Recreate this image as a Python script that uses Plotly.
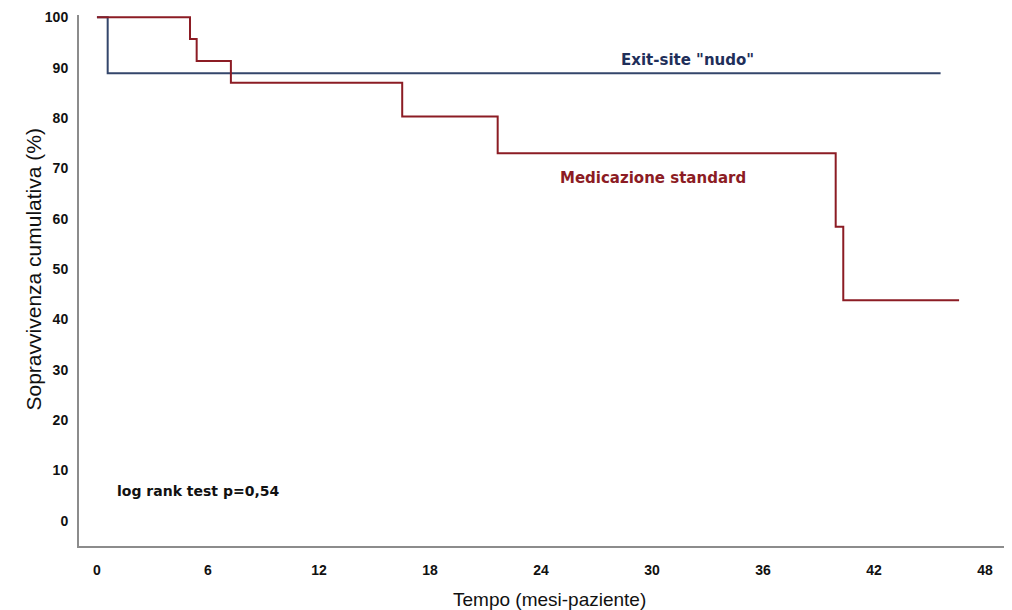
import plotly.graph_objects as go

# Kaplan-Meier data
nudo_time = [0, 0.58, 45.6]
nudo_surv = [100, 88.9, 88.9]

std_time = [0, 5.03, 5.39, 7.24, 16.5, 21.66, 39.93, 40.34, 46.6]
std_surv = [100, 95.7, 91.3, 87.0, 80.3, 73.0, 58.4, 43.8, 43.8]

x_ticks = [0, 6, 12, 18, 24, 30, 36, 42, 48]
y_ticks = [0, 10, 20, 30, 40, 50, 60, 70, 80, 90, 100]

BLUE = "#34466b"
RED = "#8c1c24"

# The page body adds an 8px offset, so the figure is sized/positioned to compensate
W, H = 1004, 602
ML, MR, MT, MB = 71, 0, 7, 64
PW, PH = W - ML - MR, H - MT - MB

fig = go.Figure()
fig.add_trace(go.Scatter(x=nudo_time, y=nudo_surv, mode="lines", line=dict(color=BLUE, width=2, shape="hv"),
                         name='Exit-site "nudo"', hoverinfo="x+y"))
fig.add_trace(go.Scatter(x=std_time, y=std_surv, mode="lines", line=dict(color=RED, width=2, shape="hv"),
                         name="Medicazione standard", hoverinfo="x+y"))

tickfont = dict(family="Liberation Sans Narrow, Arial Narrow, Liberation Sans, Arial", size=14, color="#111111", weight="bold")
annfont = "DejaVu Sans, Verdana, sans-serif"

fig.update_layout(
    width=W, height=H,
    margin=dict(l=ML, r=MR, t=MT, b=MB, autoexpand=False),
    paper_bgcolor="white", plot_bgcolor="white",
    showlegend=False,
    xaxis=dict(range=[-0.97, 49.46], tickvals=x_ticks, ticktext=[str(v) for v in x_ticks],
               showgrid=False, zeroline=False, showline=True, linecolor="#8c8c8c", linewidth=2,
               ticks="", ticklabelstandoff=10, tickfont=tickfont, automargin=False),
    yaxis=dict(range=[-5, 100.45], tickvals=y_ticks, ticktext=[str(v) for v in y_ticks],
               showgrid=False, zeroline=False, showline=True, linecolor="#8c8c8c", linewidth=2,
               ticks="", ticklabelstandoff=6, tickfont=tickfont, automargin=False),
    annotations=[
        dict(x=(541 - ML) / PW, y=(MT + PH - 591) / PH, xref="paper", yref="paper",
             text="Tempo (mesi-paziente)", showarrow=False, yanchor="middle",
             font=dict(family="Liberation Sans, Arial", size=19, color="#111111")),
        dict(x=(11 - ML) / PW, y=(MT + PH - 262) / PH, xref="paper", yref="paper",
             text="Sopravvivenza cumulativa (%)", showarrow=False, textangle=-90,
             font=dict(family="Liberation Sans, Arial", size=21, color="#111111")),
        dict(x=31.9, y=91.5, xref="x", yref="y", text='Exit-site "nudo"', showarrow=False,
             font=dict(family=annfont, size=15, color="#1f2f5a", weight="bold")),
        dict(x=30.05, y=68.1, xref="x", yref="y", text="Medicazione standard", showarrow=False,
             font=dict(family=annfont, size=15, color=RED, weight="bold")),
        dict(x=0.97, y=6.0, xref="x", yref="y", text="log rank test p=0,54", showarrow=False, xanchor="left",
             font=dict(family=annfont, size=14, color="#111111", weight="bold")),
    ],
)

fig.write_html("out.html")
